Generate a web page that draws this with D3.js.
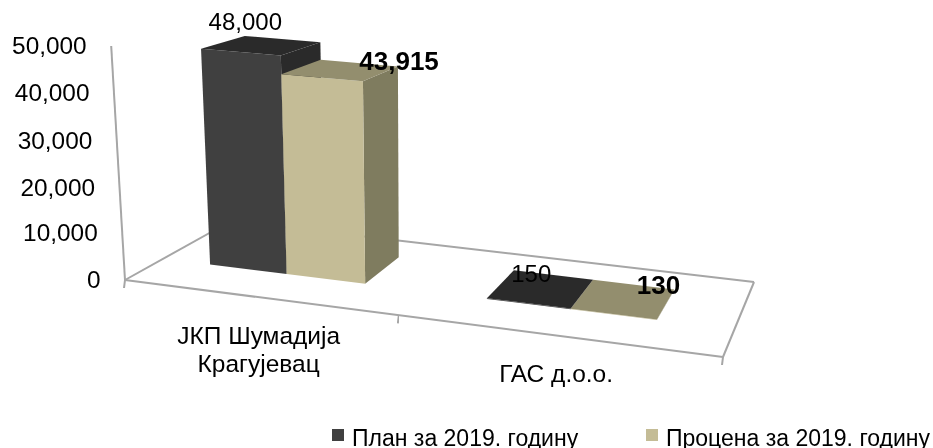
<!DOCTYPE html>
<html>
<head>
<meta charset="utf-8">
<script src="https://cdn.jsdelivr.net/npm/d3@7"></script>
<style>
body { margin: 0; background: #fff; }
text { font-family: "Liberation Sans", Arial, sans-serif; fill: #000; }
</style>
</head>
<body>
<div id="chart"></div>
<script>
// Data
var categories = ["ЈКП Шумадија\nКрагујевац", "ГАС д.о.о."];
var seriesNames = ["План за 2019. годину", "Процена за 2019. годину"];
var plan = [48000, 150];
var estimate = [43915, 130];
var yTicks = [0, 10000, 20000, 30000, 40000, 50000];
var yTickPixels = [278, 231, 186, 139, 91, 44];

var colors = [
	{front: "#404040", top: "#2b2b2b", side: "#2b2b2b"},
	{front: "#c4bc96", top: "#938e6e", side: "#7f7b5f"}
];

var chart = {width: 933, height: 448};

var svg = d3.select("#chart").append("svg")
	.attr("width", chart.width)
	.attr("height", chart.height)
	.style("display", "block");

var soft = svg.append("filter").attr("id", "soft");
soft.append("feGaussianBlur").attr("stdDeviation", 0.5);
var softText = svg.append("filter").attr("id", "softText");
softText.append("feGaussianBlur").attr("stdDeviation", 0.3);

// y scale, uneven because the reference is drawn in perspective
var y = d3.scaleLinear().domain(yTicks).range(yTickPixels);

// x scale for groups and for the bars inside each group, in floor units
var x_bar0 = d3.scaleBand().domain(d3.range(categories.length)).range([-0.018, 0.982]);
var x_bar1 = d3.scaleBand().domain(d3.range(seriesNames.length)).range([0, x_bar0.bandwidth()]).paddingOuter(0.75).paddingInner(0);

// depth of the bars on the floor
var depth = d3.scaleLinear().domain([0, 1]).range([0.33, 0.75]);

// floor plane: homography from the unit square to the four floor corners
var floor = {fl: [125, 280], fr: [723, 357], br: [755, 282], bl: [231, 221]};
var g = -0.0923, h = 0.1488;

function project(u, v, value) {
	var w = 1 + g * u + h * v;
	var px = ((floor.fr[0] * (1 + g) - floor.fl[0]) * u + (floor.bl[0] * (1 + h) - floor.fl[0]) * v + floor.fl[0]) / w;
	var py = ((floor.fr[1] * (1 + g) - floor.fl[1]) * u + (floor.bl[1] * (1 + h) - floor.fl[1]) * v + floor.fl[1]) / w;
	var lift = (y(0) - y(value)) / w;
	return [px + (px - 420) * lift / 5000, py - lift];
}

function poly(points) { return points.map(function(p) { return p.join(","); }).join(" "); }

// Floor and axis lines
function edge(a, b) {
	svg.append("line")
		.attr("x1", a[0]).attr("y1", a[1]).attr("x2", b[0]).attr("y2", b[1])
		.attr("stroke", "#a6a6a6").attr("stroke-width", 2).attr("filter", "url(#soft)");
}

edge(project(0, 0, 0), project(0, 1, 0));
edge(project(0, 1, 0), project(1, 1, 0));
edge(project(1, 1, 0), project(1, 0, 0));
edge(project(0, 0, 0), project(1, 0, 0));
edge(project(0, 0, 0), project(0, 0, 50000));

// y ticks and labels
yTicks.forEach(function(t) {
	var p = project(0, 0, t);
	edge([p[0] - 9, p[1]], p);
	svg.append("text")
		.attr("x", p[0] - 24.5)
		.attr("y", p[1] + 7.5)
		.attr("text-anchor", "end")
		.attr("font-size", 24.4)
		.attr("filter", "url(#softText)")
		.text(d3.format(",")(t));
});

// x ticks, on the group boundaries
[0, x_bar0(1), 1].forEach(function(u) {
	var p = project(u, 0, 0);
	edge(p, [p[0] - 1, p[1] + 8]);
});

// Bars, group by group, back series first
function draw_bar(cat, ser, value) {
	var u0 = x_bar0(cat) + x_bar1(ser);
	var u1 = u0 + x_bar1.bandwidth();
	var v0 = depth(0), v1 = depth(1);
	var c = colors[ser];
	svg.append("polygon").attr("fill", c.side).attr("filter", "url(#soft)")
		.attr("points", poly([project(u1, v0, 0), project(u1, v1, 0), project(u1, v1, value), project(u1, v0, value)]));
	svg.append("polygon").attr("fill", c.front).attr("filter", "url(#soft)")
		.attr("points", poly([project(u0, v0, 0), project(u1, v0, 0), project(u1, v0, value), project(u0, v0, value)]));
	svg.append("polygon").attr("fill", c.top).attr("filter", "url(#soft)")
		.attr("points", poly([project(u0, v0, value), project(u1, v0, value), project(u1, v1, value), project(u0, v1, value)]));
}

categories.forEach(function(d, i) {
	draw_bar(i, 0, plan[i]);
	draw_bar(i, 1, estimate[i]);
});

// Data labels
function value_label(cat, ser, value, bold, dx, dy) {
	var u = x_bar0(cat) + x_bar1(ser) + x_bar1.bandwidth() / 2;
	var p = project(u, depth(1), value);
	svg.append("text")
		.attr("x", p[0] + dx)
		.attr("y", p[1] + dy)
		.attr("text-anchor", "middle")
		.attr("font-size", bold ? 26 : 24)
		.attr("font-weight", bold ? "bold" : "normal")
		.attr("filter", "url(#softText)")
		.text(d3.format(",")(value));
}

value_label(0, 0, plan[0], false, -37, -9);
value_label(1, 0, plan[1], false, -22, 7);
value_label(0, 1, estimate[0], true, 40, 7);
value_label(1, 1, estimate[1], true, 25, 9);

// Category labels
categories.forEach(function(d, i) {
	var p = project(x_bar0(i) + x_bar0.bandwidth() / 2, 0, 0);
	var label = svg.append("text").attr("text-anchor", "middle").attr("font-size", 24.5).attr("filter", "url(#softText)");
	d.split("\n").forEach(function(line, j) {
		label.append("tspan").attr("x", p[0] + 5).attr("y", p[1] + 47.5 + j * 28).text(line);
	});
});

// Legend
var legend = svg.append("g")
	.selectAll("g")
	.data(seriesNames)
	.enter().append("g")
	.attr("transform", function(d, i) { return "translate(" + [352, 666][i] + ",0)"; });

legend.append("rect")
	.attr("x", -20).attr("y", 429)
	.attr("width", 12).attr("height", 12)
	.attr("fill", function(d, i) { return colors[i].front; });

legend.append("text")
	.attr("x", 0).attr("y", 445.5)
	.attr("font-size", 23)
	.attr("filter", "url(#softText)")
	.text(function(d) { return d; });
</script>
</body>
</html>
